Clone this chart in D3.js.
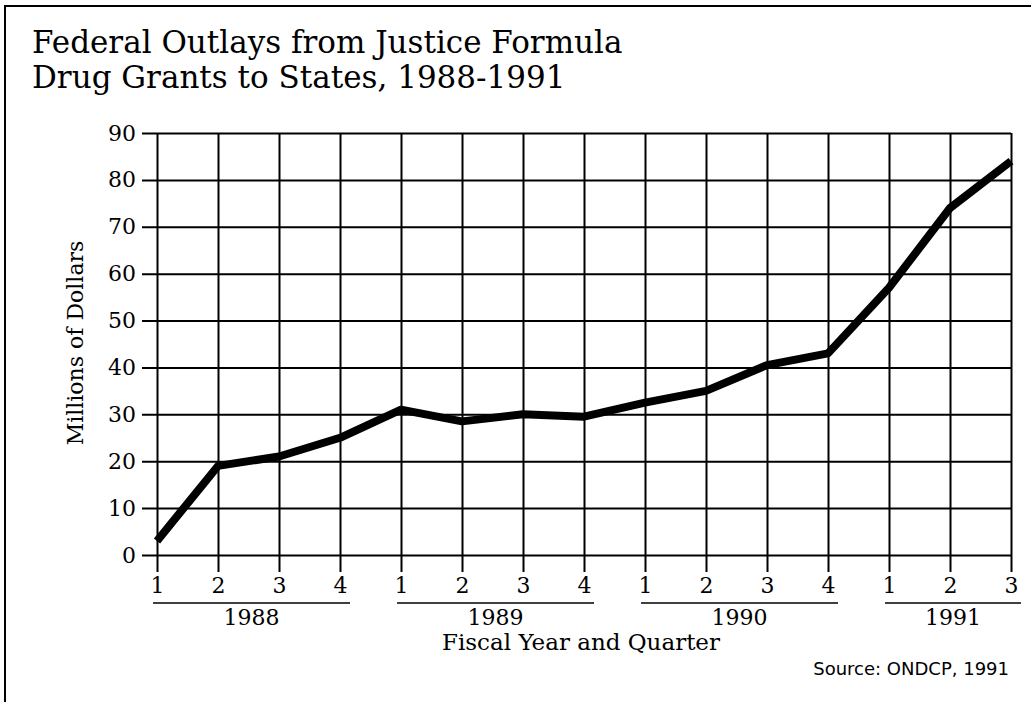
<!DOCTYPE html>
<meta charset="utf-8">
<style>
body { margin: 0; background: #fff; }
svg { font-family: "DejaVu Serif", serif; }
</style>
<svg width="1031" height="702"></svg>
<script src="https://cdn.jsdelivr.net/npm/d3@7"></script>
<script>

// quarters and outlays (millions of dollars)
var quarters = ["1", "2", "3", "4", "1", "2", "3", "4", "1", "2", "3", "4", "1", "2", "3"];
var fiscalYears = ["1988", "1988", "1988", "1988", "1989", "1989", "1989", "1989",
                   "1990", "1990", "1990", "1990", "1991", "1991", "1991"];
var outlays = [3, 19, 21, 25, 31, 28.5, 30, 29.5, 32.5, 35, 40.5, 43, 57, 74, 84];
var yTicks = [0, 10, 20, 30, 40, 50, 60, 70, 80, 90];

var svg = d3.select("svg");

var data = outlays.map(function(v, i) {
  return { id: i, quarter: quarters[i], year: fiscalYears[i], value: v };
});

var x = d3.scalePoint()
    .domain(data.map(function(d) { return d.id; }))
    .range([157, 1011]);

var y = d3.scaleLinear()
    .domain([0, 90])
    .range([555, 133]);

// frame (top and left edges only)
svg.append("path")
    .attr("d", "M5,1000V6H1031")
    .attr("fill", "none")
    .attr("stroke", "#000")
    .attr("stroke-width", 2);

// title
var title = svg.append("text")
    .attr("x", 32)
    .attr("font-size", 31);
title.append("tspan").attr("x", 32).attr("y", 53).text("Federal Outlays from Justice Formula");
title.append("tspan").attr("x", 32).attr("y", 88).text("Drug Grants to States, 1988-1991");

// y axis with horizontal grid lines
var yAxis = svg.append("g")
    .attr("transform", "translate(142,0)")
    .call(d3.axisLeft(y)
      .tickValues(yTicks)
      .tickSizeInner(-(1011 - 142))
      .tickSizeOuter(0)
      .tickPadding(6));
yAxis.select(".domain").remove();
yAxis.selectAll("line").attr("stroke", "#000").attr("stroke-width", 2);
yAxis.selectAll("text")
    .attr("font-family", "DejaVu Serif, serif")
    .attr("font-size", 22)
    .attr("fill", "#000");

// x axis with vertical grid lines
var xAxis = svg.append("g")
    .attr("transform", "translate(0,572)")
    .call(d3.axisBottom(x)
      .tickFormat(function(i) { return quarters[i]; })
      .tickSizeInner(-(572 - 133))
      .tickSizeOuter(0)
      .tickPadding(5));
xAxis.select(".domain").remove();
xAxis.selectAll("line").attr("stroke", "#000").attr("stroke-width", 2);
xAxis.selectAll("text")
    .attr("font-family", "DejaVu Serif, serif")
    .attr("font-size", 22)
    .attr("fill", "#000");

// year groups: underline + label
var groups = d3.groups(data, function(d) { return d.year; });
var yearG = svg.selectAll(".year")
    .data(groups)
  .enter().append("g")
    .attr("class", "year");

yearG.append("line")
    .attr("x1", function(g) { return x(g[1][0].id) - 4; })
    .attr("x2", function(g) { return x(g[1][g[1].length - 1].id) + 10; })
    .attr("y1", 603)
    .attr("y2", 603)
    .attr("stroke", "#000")
    .attr("stroke-width", 1.5);

yearG.append("text")
    .attr("x", function(g) { return (x(g[1][0].id) - 4 + x(g[1][g[1].length - 1].id) + 10) / 2; })
    .attr("y", 625)
    .attr("text-anchor", "middle")
    .attr("font-size", 22)
    .text(function(g) { return g[0]; });

// axis titles
svg.append("text")
    .attr("x", 581)
    .attr("y", 650)
    .attr("text-anchor", "middle")
    .attr("font-size", 23)
    .text("Fiscal Year and Quarter");

svg.append("text")
    .attr("transform", "translate(83,343) rotate(-90)")
    .attr("text-anchor", "middle")
    .attr("font-size", 22)
    .text("Millions of Dollars");

svg.append("text")
    .attr("x", 1009)
    .attr("y", 675)
    .attr("text-anchor", "end")
    .attr("font-family", "DejaVu Sans, sans-serif")
    .attr("font-size", 18)
    .text("Source: ONDCP, 1991");

// the data line
var line = d3.line()
    .x(function(d) { return x(d.id); })
    .y(function(d) { return y(d.value); });

svg.append("path")
    .datum(data)
    .attr("d", line)
    .attr("fill", "none")
    .attr("stroke", "#000")
    .attr("stroke-width", 8)
    .attr("stroke-linejoin", "round");

</script>
